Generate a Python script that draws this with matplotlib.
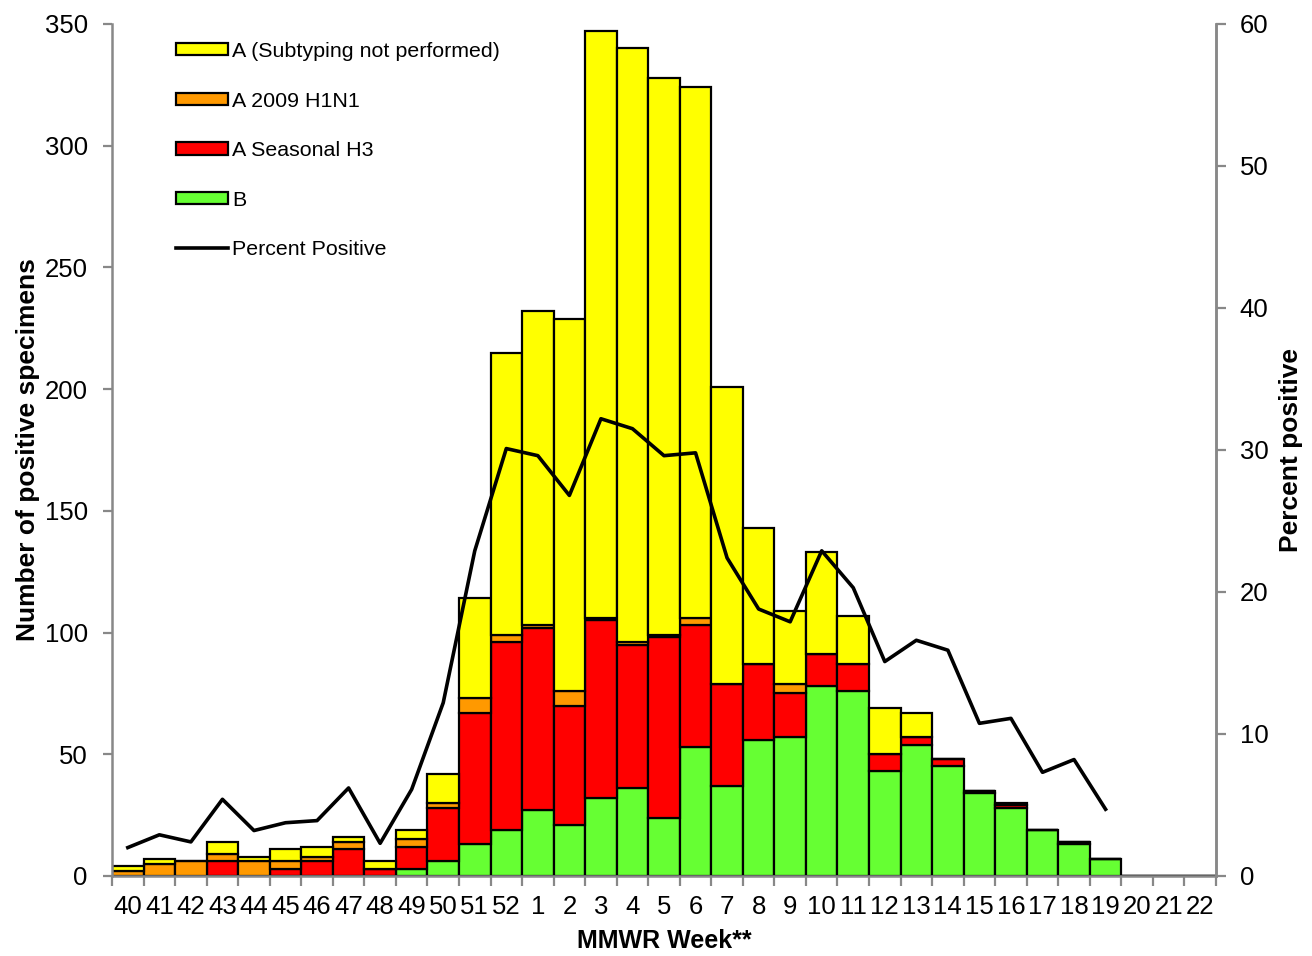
import numpy as np
import matplotlib.pyplot as plt
from matplotlib.patches import Patch
from matplotlib.lines import Line2D

plt.rcParams['font.family'] = ['Liberation Sans', 'DejaVu Sans']

weeks = ['40', '41', '42', '43', '44', '45', '46', '47', '48', '49', '50', '51', '52',
         '1', '2', '3', '4', '5', '6', '7', '8', '9', '10', '11', '12', '13', '14',
         '15', '16', '17', '18', '19', '20', '21', '22']

flu_b = [0, 0, 0, 0, 0, 0, 0, 0, 0, 3, 6, 13, 19,
         27, 21, 32, 36, 24, 53, 37, 56, 57, 78, 76, 43, 54, 45,
         34, 28, 19, 13, 7, 0, 0, 0]
a_h3 = [0, 0, 0, 6, 0, 3, 6, 11, 3, 9, 22, 54, 77,
        75, 49, 73, 59, 74, 50, 42, 31, 18, 13, 11, 7, 3, 3,
        1, 1, 0, 1, 0, 0, 0, 0]
a_h1n1 = [2, 5, 6, 3, 6, 3, 2, 3, 0, 3, 2, 6, 3,
          1, 6, 1, 1, 1, 3, 0, 0, 4, 0, 0, 0, 0, 0,
          0, 0, 0, 0, 0, 0, 0, 0]
a_unsub = [2, 2, 0, 5, 2, 5, 4, 2, 3, 4, 12, 41, 116,
           129, 153, 241, 244, 229, 218, 122, 56, 30, 42, 20, 19, 10, 0,
           0, 1, 0, 0, 0, 0, 0, 0]
pct_pos = [2.0, 2.9, 2.4, 5.4, 3.2, 3.75, 3.9, 6.2, 2.3, 6.1, 12.2, 22.9, 30.1,
           29.6, 26.8, 32.2, 31.5, 29.6, 29.8, 22.4, 18.8, 17.9, 22.9, 20.3, 15.1, 16.6, 15.9,
           10.75, 11.1, 7.3, 8.2, 4.7, np.nan, np.nan, np.nan]

x = np.arange(len(weeks))
b = np.array(flu_b)
h3 = np.array(a_h3)
h1 = np.array(a_h1n1)
un = np.array(a_unsub)

fig = plt.figure(figsize=(13.12, 9.56), dpi=100)
ax = fig.add_axes([0.0854, 0.0837, 0.8414, 0.8912])
ax2 = ax.twinx()

edge = dict(width=1.0, edgecolor='black', linewidth=1.6)
ax.bar(x, b, color='#66FF33', **edge)
ax.bar(x, h3, bottom=b, color='#FF0000', **edge)
ax.bar(x, h1, bottom=b + h3, color='#FF9900', **edge)
ax.bar(x, un, bottom=b + h3 + h1, color='#FFFF00', **edge)

ax2.plot(x, pct_pos, color='black', linewidth=2.6)

ax.set_xlim(-0.5, len(weeks) - 0.5)
ax.set_ylim(0, 350)
ax2.set_ylim(0, 60)
ax.set_yticks(range(0, 351, 50))
ax2.set_yticks(range(0, 61, 10))

ax.set_xticks(np.arange(-0.5, len(weeks), 1))
ax.set_xticklabels([])
ax.set_xticks(x, minor=True)
ax.set_xticklabels(weeks, minor=True)
ax.tick_params(axis='x', which='minor', length=0, labelsize=18.5, pad=14)
ax.tick_params(axis='x', which='major', length=7, width=1.6, color='#888888', direction='out')
ax.tick_params(axis='y', length=6.5, width=1.6, color='#888888', direction='out', labelsize=18.5, pad=11)
ax2.tick_params(axis='y', length=7, width=1.6, color='#888888', direction='out', labelsize=18.5, pad=10)

for a in (ax, ax2):
    a.spines['top'].set_visible(False)
    for s in ('left', 'right', 'bottom'):
        a.spines[s].set_color('#888888')
        a.spines[s].set_linewidth(1.8)
ax2.spines['left'].set_visible(False)
ax2.spines['bottom'].set_visible(False)

ax.set_xlabel('MMWR Week**', fontsize=18, fontweight='bold', labelpad=7)
ax.set_ylabel('Number of positive specimens', fontsize=19, fontweight='bold', labelpad=3)
ax2.set_ylabel('Percent positive', fontsize=19, fontweight='bold', labelpad=8)

handles = [Patch(facecolor='#FFFF00', edgecolor='black', linewidth=1.6),
           Patch(facecolor='#FF9900', edgecolor='black', linewidth=1.6),
           Patch(facecolor='#FF0000', edgecolor='black', linewidth=1.6),
           Patch(facecolor='#66FF33', edgecolor='black', linewidth=1.6),
           Line2D([0], [0], color='black', linewidth=2.6)]
labels = ['A (Subtyping not performed)', 'A 2009 H1N1', 'A Seasonal H3', 'B', 'Percent Positive']
ax2.legend(handles, labels, loc='upper left', bbox_to_anchor=(0.05, 0.989), frameon=False,
           fontsize=15.4, handlelength=2.43, handleheight=0.5, handletextpad=0.2,
           labelspacing=1.43, borderaxespad=0)

fig.savefig('out.png', dpi=100)
